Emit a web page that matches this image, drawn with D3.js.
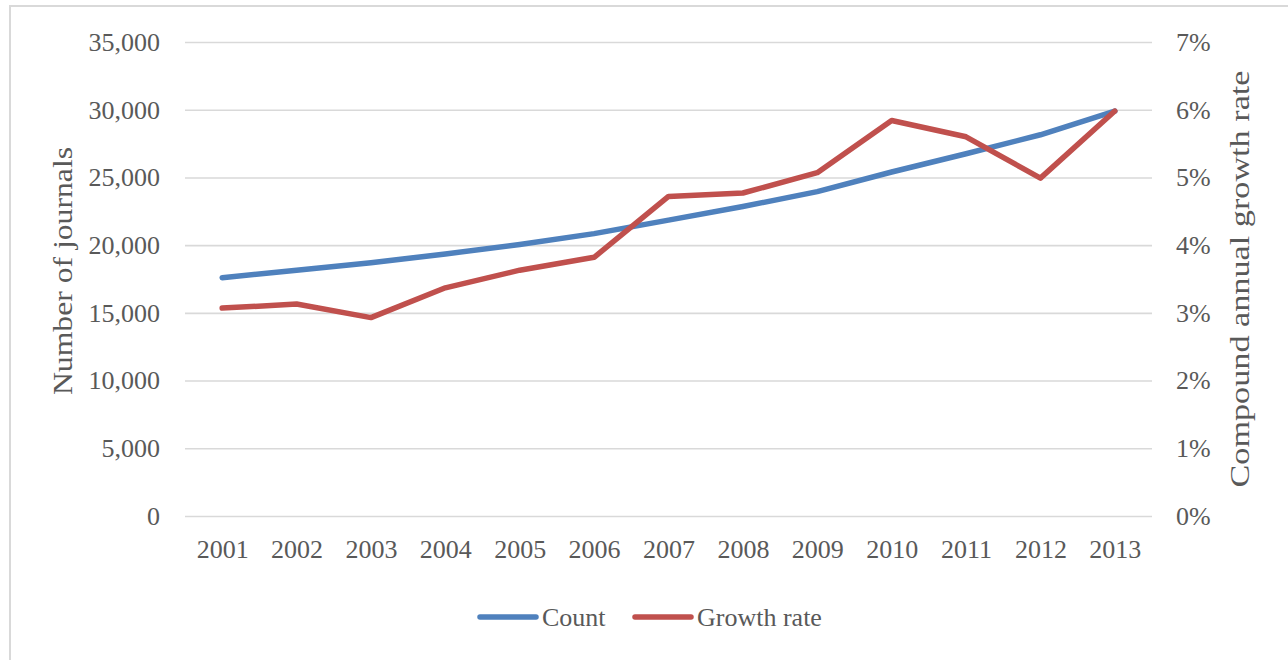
<!DOCTYPE html>
<html>
<head>
<meta charset="utf-8">
<script src="https://cdn.jsdelivr.net/npm/d3@7"></script>
<style>
  body { margin: 0; background: #fff; }
  svg text { font-family: "Liberation Serif", "DejaVu Serif", serif; fill: #595959; }
</style>
</head>
<body>
<svg id="chart" width="1288" height="660"></svg>
<script>
// Chart values
const years = ["2001", "2002", "2003", "2004", "2005", "2006", "2007", "2008", "2009", "2010", "2011", "2012", "2013"];
const journalCounts = [17600, 18150, 18700, 19350, 20050, 20850, 21850, 22850, 23950, 25400, 26750, 28150, 29900];
const growthRates = [3.07, 3.13, 2.93, 3.37, 3.63, 3.82, 4.72, 4.77, 5.07, 5.84, 5.60, 4.99, 5.98]; // percent
const countTicks = [0, 5000, 10000, 15000, 20000, 25000, 30000, 35000];
const rateTicks = [0, 1, 2, 3, 4, 5, 6, 7];
const seriesNames = ["Count", "Growth rate"];

// Layout
const plot = { left: 185, right: 1152, top: 42, bottom: 516 };
const blue = "#4f81bd";
const red = "#c0504d";

const svg = d3.select("#chart");

// Outer chart border
svg.append("rect")
    .attr("x", 10).attr("y", 6)
    .attr("width", 1300).attr("height", 700)
    .attr("fill", "#fff")
    .attr("stroke", "#d9d9d9")
    .attr("stroke-width", 2);

// Scales
const x = d3.scalePoint()
    .domain(years)
    .range([plot.left, plot.right])
    .padding(0.5);

const yCount = d3.scaleLinear()
    .domain([0, 35000])
    .range([plot.bottom, plot.top]);

const yRate = d3.scaleLinear()
    .domain([0, 7])
    .range([plot.bottom, plot.top]);

// Gridlines
const grid = svg.append("g")
    .attr("transform", `translate(${plot.left},0)`)
    .call(d3.axisRight(yCount).tickValues(countTicks).tickSize(plot.right - plot.left).tickFormat(""));
grid.select(".domain").remove();
grid.selectAll("line").attr("stroke", "#d9d9d9").attr("stroke-width", 1.6);

// Left axis labels
const leftAxis = svg.append("g")
    .attr("transform", `translate(${plot.left},0)`)
    .call(d3.axisLeft(yCount).tickValues(countTicks).tickSize(0).tickPadding(25).tickFormat(d3.format(",")));
leftAxis.select(".domain").remove();
leftAxis.selectAll("text").attr("font-size", 26).attr("fill", "#595959")
    .style("font-family", "'Liberation Serif', serif");

// Right axis labels
const rightAxis = svg.append("g")
    .attr("transform", `translate(${plot.right},0)`)
    .call(d3.axisRight(yRate).tickValues(rateTicks).tickSize(0).tickPadding(24).tickFormat(d => d + "%"));
rightAxis.select(".domain").remove();
rightAxis.selectAll("text").attr("font-size", 26).attr("fill", "#595959")
    .style("font-family", "'Liberation Serif', serif");

// Bottom axis labels
const bottomAxis = svg.append("g")
    .attr("transform", `translate(0,${plot.bottom})`)
    .call(d3.axisBottom(x).tickSize(0).tickPadding(24));
bottomAxis.select(".domain").remove();
bottomAxis.selectAll("text").attr("font-size", 26).attr("fill", "#595959")
    .style("font-family", "'Liberation Serif', serif");

// Axis titles
svg.append("text")
    .attr("transform", "translate(72,271) rotate(-90)")
    .attr("text-anchor", "middle")
    .attr("font-size", 27)
    .attr("textLength", 248)
    .attr("lengthAdjust", "spacingAndGlyphs")
    .text("Number of journals");

svg.append("text")
    .attr("transform", "translate(1249,279) rotate(-90)")
    .attr("text-anchor", "middle")
    .attr("font-size", 27)
    .attr("textLength", 417)
    .attr("lengthAdjust", "spacingAndGlyphs")
    .text("Compound annual growth rate");

// Lines
const countLine = d3.line()
    .x((d, i) => x(years[i]))
    .y(d => yCount(d));

const rateLine = d3.line()
    .x((d, i) => x(years[i]))
    .y(d => yRate(d));

svg.append("path")
    .datum(journalCounts)
    .attr("d", countLine)
    .attr("fill", "none")
    .attr("stroke", blue)
    .attr("stroke-width", 5.5)
    .attr("stroke-linejoin", "round")
    .attr("stroke-linecap", "round");

svg.append("path")
    .datum(growthRates)
    .attr("d", rateLine)
    .attr("fill", "none")
    .attr("stroke", red)
    .attr("stroke-width", 5.5)
    .attr("stroke-linejoin", "round")
    .attr("stroke-linecap", "round");

// Legend
const legend = [
    { name: seriesNames[0], color: blue, x: 480 },
    { name: seriesNames[1], color: red, x: 635 }
];
legend.forEach(item => {
    svg.append("line")
        .attr("x1", item.x).attr("x2", item.x + 56)
        .attr("y1", 617).attr("y2", 617)
        .attr("stroke", item.color)
        .attr("stroke-width", 5.5)
        .attr("stroke-linecap", "round");
    svg.append("text")
        .attr("x", item.x + 62)
        .attr("y", 617)
        .attr("dy", "0.35em")
        .attr("font-size", 26)
        .text(item.name);
});
</script>
</body>
</html>
